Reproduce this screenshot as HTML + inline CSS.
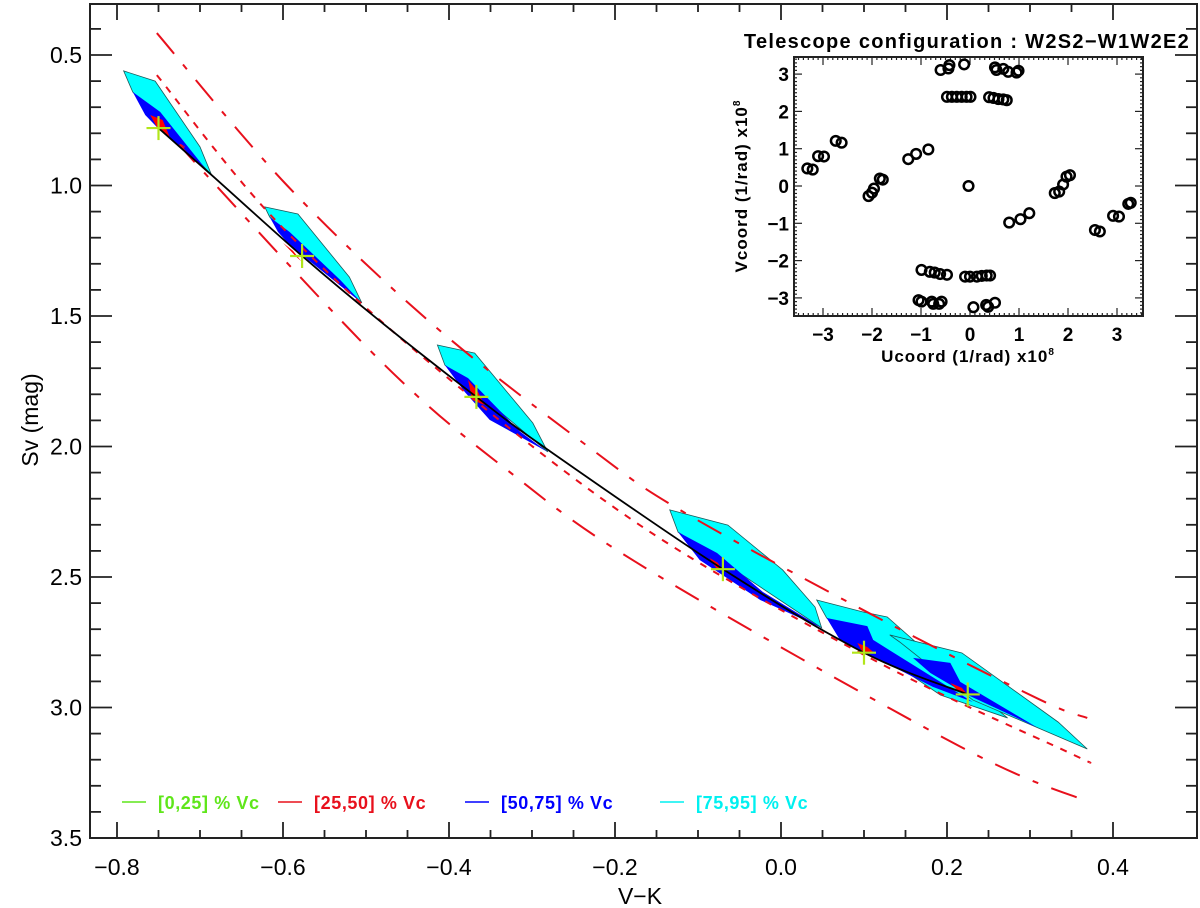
<!DOCTYPE html>
<html><head><meta charset="utf-8"><style>
html,body{margin:0;padding:0;background:#fff}
svg{display:block}
text{font-family:"Liberation Sans",sans-serif}
</style></head><body>
<svg id="chart" width="1200" height="908" viewBox="0 0 1200 908" xmlns="http://www.w3.org/2000/svg">
<rect x="0" y="0" width="1200" height="908" fill="#fff"/>
<g id="main"></g>
<g id="inset"></g>
</svg>
<script>
// ---- main chart data (V-K, Sv) ----
const xTicks = [-0.8,-0.6,-0.4,-0.2,0.0,0.2,0.4];
const xTickLabels = ["\u22120.8","\u22120.6","\u22120.4","\u22120.2","0.0","0.2","0.4"];
const yTicks = [0.5,1.0,1.5,2.0,2.5,3.0,3.5];
const yTickLabels = ["0.5","1.0","1.5","2.0","2.5","3.0","3.5"];
const blackVK = [-0.75,-0.686,-0.577,-0.483,-0.367,-0.282,-0.07,0.1,0.225];
const blackSv = [0.78,0.96,1.27,1.52,1.81,2.01,2.47,2.79,2.95];
const upperVK = [-0.752,-0.595,-0.419,-0.230,-0.118,0.119,0.312,0.369];
const upperSv = [0.416,1.0,1.534,2.006,2.25,2.66,2.97,3.04];
const middleVK = [-0.752,-0.61,-0.423,-0.166,0.119,0.345,0.372];
const middleSv = [0.577,1.13,1.68,2.31,2.83,3.17,3.21];
const lowerVK = [-0.72,-0.70,-0.480,-0.33,-0.161,0.216,0.369];
const lowerSv = [0.85,0.933,1.68,2.09,2.47,3.15,3.36];
const crossVK = [-0.75,-0.577,-0.367,-0.07,0.1,0.225];
const crossSv = [0.78,1.27,1.81,2.47,2.79,2.95];
const cyanPolys = [
 [[-0.792,0.561],[-0.754,0.600],[-0.700,0.852],[-0.686,0.960],[-0.781,0.642]],
 [[-0.622,1.082],[-0.582,1.109],[-0.520,1.351],[-0.505,1.450],[-0.616,1.121]],
 [[-0.414,1.611],[-0.369,1.642],[-0.299,1.910],[-0.281,2.021],[-0.405,1.688]],
 [[-0.134,2.243],[-0.064,2.301],[0.002,2.473],[0.041,2.615],[0.049,2.695],[-0.124,2.328]],
 [[0.043,2.588],[0.099,2.634],[0.128,2.653],[0.180,2.799],[0.273,3.040],[0.192,2.952],[0.055,2.657]],
 [[0.131,2.722],[0.218,2.791],[0.334,3.056],[0.369,3.159],[0.231,2.971],[0.143,2.749]]
];
const bluePolys = [
 [[-0.781,0.642],[-0.748,0.718],[-0.694,0.933],[-0.752,0.776],[-0.766,0.730]],
 [[-0.616,1.121],[-0.592,1.178],[-0.531,1.362],[-0.505,1.450],[-0.592,1.228],[-0.606,1.178]],
 [[-0.405,1.688],[-0.377,1.738],[-0.314,1.944],[-0.281,2.021],[-0.351,1.898],[-0.381,1.791]],
 [[-0.124,2.328],[-0.077,2.408],[-0.022,2.557],[0.049,2.695],[-0.025,2.588],[-0.098,2.435]],
 [[0.055,2.657],[0.104,2.688],[0.111,2.741],[0.192,2.902],[0.231,2.979],[0.183,2.921],[0.071,2.741]],
 [[0.159,2.810],[0.204,2.829],[0.216,2.902],[0.308,3.075],[0.225,2.952],[0.180,2.868]]
];
const redPolys = [
 [[-0.760,0.730],[-0.745,0.749],[-0.736,0.818],[-0.752,0.776]],
 [[-0.600,1.22],[-0.588,1.25],[-0.578,1.29],[-0.585,1.27]],
 [[-0.377,1.745],[-0.365,1.791],[-0.357,1.841],[-0.372,1.822]],
 [[-0.086,2.427],[-0.076,2.446],[-0.071,2.473],[-0.078,2.466]],
 [[0.092,2.753],[0.104,2.768],[0.111,2.787],[0.098,2.787]],
 [[0.204,2.906],[0.218,2.925],[0.225,2.952],[0.212,2.933]]
];
const legendLabels = ["[0,25] % Vc","[25,50] % Vc","[50,75] % Vc","[75,95] % Vc"];
// ---- inset data (U,V in 1e8 /rad) ----
const uvTicks = [-3,-2,-1,0,1,2,3];
const uvTickLabels = ["\u22123","\u22122","\u22121","0","1","2","3"];
const uCoord = [-0.60,-0.44,-0.42,-0.12,0.51,0.54,0.68,0.78,0.95,0.99,
 -0.47,-0.37,-0.27,-0.17,-0.07,0.01,0.39,0.48,0.58,0.68,0.75,
 -3.32,-3.21,-3.10,-2.98,-2.74,-2.62,-1.26,-1.10,-0.85,
 -2.07,-2.00,-1.96,-1.84,-1.78,-0.03,
 1.73,1.82,1.90,1.97,2.04,0.80,1.03,1.21,
 2.55,2.65,2.92,3.04,3.23,3.28,
 -0.99,-0.82,-0.72,-0.61,-0.47,-0.10,0.00,0.14,0.24,0.34,0.41,
 -1.05,-0.99,-0.78,-0.75,-0.63,-0.58,0.07,0.33,0.37,0.51];
const vCoord = [3.11,3.15,3.24,3.26,3.18,3.11,3.14,3.06,3.04,3.09,
 2.39,2.39,2.39,2.39,2.39,2.39,2.38,2.36,2.33,2.32,2.30,
 0.47,0.44,0.80,0.79,1.21,1.16,0.72,0.86,0.98,
 -0.27,-0.18,-0.07,0.20,0.17,0.0,
 -0.19,-0.15,0.04,0.25,0.29,-0.98,-0.89,-0.73,
 -1.18,-1.22,-0.80,-0.82,-0.48,-0.45,
 -2.25,-2.30,-2.32,-2.36,-2.38,-2.43,-2.43,-2.43,-2.41,-2.40,-2.40,
 -3.06,-3.10,-3.10,-3.16,-3.16,-3.10,-3.25,-3.19,-3.24,-3.13];

const NS="http://www.w3.org/2000/svg";
function mk(tag,attrs,parent){const e=document.createElementNS(NS,tag);for(const k in attrs)e.setAttribute(k,attrs[k]);parent.appendChild(e);return e;}
const X=v=>781+v*830, Y=s=>55+(s-0.5)*261;
const L=90,R=1197,T=4,B=838;
const main=document.getElementById('main');

function smoothPath(px){
  let d=`M${px[0][0]},${px[0][1]}`;
  for(let i=0;i<px.length-1;i++){
    const p0=px[i-1]||px[i],p1=px[i],p2=px[i+1],p3=px[i+2]||p2;
    const c1=[p1[0]+(p2[0]-p0[0])/6,p1[1]+(p2[1]-p0[1])/6];
    const c2=[p2[0]-(p3[0]-p1[0])/6,p2[1]-(p3[1]-p1[1])/6];
    d+=` C${c1[0]},${c1[1]} ${c2[0]},${c2[1]} ${p2[0]},${p2[1]}`;
  }
  return d;
}
function polys(list,fill,stroke,name){
  list.forEach((p,i)=>{
    const e=mk('polygon',{points:p.map(q=>X(q[0])+','+Y(q[1])).join(' '),fill:fill,stroke:stroke,'stroke-width':stroke==='none'?0:0.8},main);
    
    
  });
}
polys(cyanPolys,'#00ffff','#1a5a5a','cyan-region');
polys(bluePolys,'#0000ff','none','blue-region');
polys(redPolys,'#ff0000','none','red-region');
function line(vs,ss,dash,name,color,w){
  const e=mk('path',{d:smoothPath(vs.map((v,i)=>[X(v),Y(ss[i])])),fill:'none',stroke:color,'stroke-width':w,'stroke-dasharray':dash},main);
  
  
}
line(upperVK,upperSv,'27,14,6,14','upper-red-curve','#e8101c',2);
line(middleVK,middleSv,'7,8','middle-red-curve','#e8101c',2);
line(lowerVK,lowerSv,'27,14,6,14','lower-red-curve','#e8101c',2);
line(blackVK,blackSv,'none','black-relation-curve','#000',1.8);
crossVK.forEach((v,i)=>{
  const x=X(v),y=Y(crossSv[i]);
  const g=mk('g',{stroke:'#b2e61a','stroke-width':2.2},main);
  
  
  mk('line',{x1:x-12,y1:y,x2:x+12,y2:y},g);
  mk('line',{x1:x,y1:y-12,x2:x,y2:y+12},g);
});
const fr=mk('rect',{x:L,y:T,width:R-L,height:B-T,fill:'none',stroke:'#222','stroke-width':2},main);


for(let k=-16;k<=8;k++){
  const v=k*0.05, x=X(v); if(x<L||x>R) continue;
  const major=(k%4===0); const len=major?16:8;
  mk('line',{x1:x,y1:B,x2:x,y2:B-len,stroke:'#222','stroke-width':1.8},main);
  mk('line',{x1:x,y1:T,x2:x,y2:T+len,stroke:'#222','stroke-width':1.8},main);
}
xTicks.forEach((v,i)=>{
  const t=mk('text',{x:X(v),y:875,'font-size':23,'text-anchor':'middle',fill:'#000'},main);
  t.textContent=xTickLabels[i];
  
  
});
for(let k=4;k<=35;k++){
  const s=k*0.1, y=Y(s); if(y<T||y>B) continue;
  const major=(k%5===0); const len=major?22:11;
  mk('line',{x1:L,y1:y,x2:L+len,y2:y,stroke:'#222','stroke-width':1.8},main);
  mk('line',{x1:R,y1:y,x2:R-len,y2:y,stroke:'#222','stroke-width':1.8},main);
}
yTicks.forEach((s,i)=>{
  const t=mk('text',{x:82,y:Y(s)+8,'font-size':23,'text-anchor':'end',fill:'#000'},main);
  t.textContent=yTickLabels[i];
  
  
});
const xt=mk('text',{x:640,y:904,'font-size':23,'text-anchor':'middle'},main);
xt.textContent='V\u2212K';


const yt=mk('text',{x:0,y:0,'font-size':23,'text-anchor':'middle',transform:'translate(38,420) rotate(-90)'},main);
yt.textContent='Sv (mag)';


const legColors=['#5fe61a','#e8101c','#0000ff','#00f0f0'];
const legX=[122,278,465,660];
legendLabels.forEach((lab,i)=>{
  const g=mk('g',{},main);
  
  
  mk('line',{x1:legX[i],y1:802,x2:legX[i]+24,y2:802,stroke:legColors[i],'stroke-width':1.5},g);
  const t=mk('text',{x:legX[i]+36,y:809,'font-size':18,'font-weight':'bold','letter-spacing':'0.6',fill:legColors[i]},g);
  t.textContent=lab;
});

// ---- inset ----
const ins=document.getElementById('inset');
const IL=794,IR=1143,IT=57,IB=316;
const U=u=>970+u*49, V=v=>186-v*37.3;
mk('rect',{x:IL,y:IT,width:IR-IL,height:IB-IT,fill:'#fff',stroke:'#222','stroke-width':2},ins);
for(let k=-35;k<=35;k++){
  const u=k/10; const x=U(u); if(x<IL||x>IR) continue;
  const len=(k%10===0)?8:3;
  mk('line',{x1:x,y1:IB,x2:x,y2:IB-len,stroke:'#222','stroke-width':1.2},ins);
  mk('line',{x1:x,y1:IT,x2:x,y2:IT+len,stroke:'#222','stroke-width':1.2},ins);
}
for(let k=-35;k<=35;k++){
  const v=k/10; const y=V(v); if(y<IT||y>IB) continue;
  const len=(k%10===0)?8:3;
  mk('line',{x1:IL,y1:y,x2:IL+len,y2:y,stroke:'#222','stroke-width':1.2},ins);
  mk('line',{x1:IR,y1:y,x2:IR-len,y2:y,stroke:'#222','stroke-width':1.2},ins);
}
uvTicks.forEach((u,i)=>{
  const t=mk('text',{x:U(u),y:341,'font-size':19,'font-weight':'bold','text-anchor':'middle'},ins);
  t.textContent=uvTickLabels[i];
  
  
  const t2=mk('text',{x:789,y:V(u)+7,'font-size':19,'font-weight':'bold','text-anchor':'end'},ins);
  t2.textContent=uvTickLabels[i];
  
  
});
uCoord.forEach((u,i)=>{
  const c=mk('circle',{cx:U(u),cy:V(vCoord[i]),r:4.8,fill:'none',stroke:'#000','stroke-width':2.5},ins);
  
  
});
const it=mk('text',{x:967,y:48,'font-size':20,'font-weight':'bold','letter-spacing':'1.3','text-anchor':'middle'},ins);
it.textContent='Telescope configuration : W2S2\u2212W1W2E2';


const ux=mk('text',{x:968,y:362,'font-size':17,'font-weight':'bold','letter-spacing':'1','text-anchor':'middle'},ins);
ux.innerHTML='Ucoord (1/rad) x10<tspan dy="-7" font-size="10">8</tspan>';


const vy=mk('text',{x:0,y:0,'font-size':17,'font-weight':'bold','letter-spacing':'1','text-anchor':'middle',transform:'translate(747,186) rotate(-90)'},ins);
vy.innerHTML='Vcoord (1/rad) x10<tspan dy="-7" font-size="10">8</tspan>';


</script>
</body></html>
